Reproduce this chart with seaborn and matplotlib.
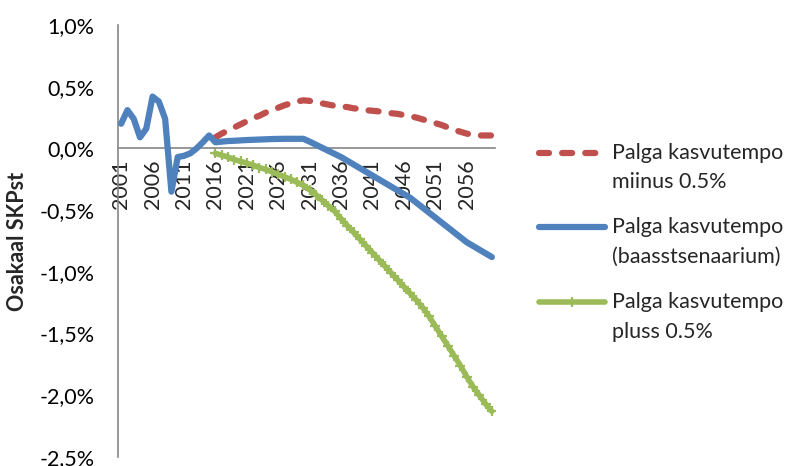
import matplotlib
matplotlib.use("Agg")
import matplotlib.pyplot as plt
from matplotlib.lines import Line2D
import numpy as np
import pandas as pd
import seaborn as sns

# ---------------- data ----------------
years = list(range(2001, 2061))
tick_years = list(range(2001, 2061, 5))

baseline = [0.20, 0.31, 0.24, 0.09, 0.16, 0.42, 0.38, 0.24, -0.35, -0.07,
            -0.06, -0.04, 0.00, 0.05, 0.105, 0.05, 0.055, 0.06, 0.062, 0.065,
            0.068, 0.07, 0.072, 0.074, 0.076, 0.077, 0.078, 0.078, 0.078, 0.078,
            0.055, 0.03, 0.005, -0.02, -0.045, -0.07, -0.10, -0.13, -0.16, -0.19,
            -0.22, -0.25, -0.28, -0.31, -0.34, -0.37, -0.40, -0.44, -0.48, -0.52,
            -0.56, -0.60, -0.64, -0.68, -0.72, -0.76, -0.79, -0.82, -0.85, -0.88]

scen_years = list(range(2016, 2061))
minus05 = [0.09, 0.12, 0.145, 0.17, 0.195, 0.22, 0.245, 0.265, 0.29, 0.31,
           0.33, 0.35, 0.365, 0.38, 0.39, 0.385, 0.375, 0.365, 0.355, 0.345,
           0.34, 0.335, 0.325, 0.32, 0.31, 0.305, 0.30, 0.295, 0.285, 0.28,
           0.27, 0.26, 0.25, 0.235, 0.22, 0.205, 0.19, 0.17, 0.15, 0.135,
           0.12, 0.11, 0.105, 0.105, 0.105]
plus05 = [-0.04, -0.055, -0.07, -0.09, -0.105, -0.12, -0.135, -0.155, -0.17, -0.19,
          -0.21, -0.23, -0.25, -0.275, -0.30, -0.335, -0.375, -0.42, -0.465, -0.51,
          -0.57, -0.625, -0.68, -0.735, -0.79, -0.845, -0.90, -0.955, -1.01, -1.065,
          -1.12, -1.175, -1.23, -1.29, -1.36, -1.44, -1.52, -1.60, -1.68, -1.76,
          -1.85, -1.93, -2.00, -2.07, -2.13]

y_ticks = [-2.5, -2.0, -1.5, -1.0, -0.5, 0.0, 0.5, 1.0]
y_tick_labels = ["-2,5%", "-2,0%", "-1,5%", "-1,0%", "-0,5%", "0,0%", "0,5%", "1,0%"]

labels = ["Palga kasvutempo\nmiinus 0.5%",
          "Palga kasvutempo\n(baasstsenaarium)",
          "Palga kasvutempo\npluss 0.5%"]
ylabel = "Osakaal SKPst"

# ---------------- style ----------------
sns.set_style("white")
plt.rcParams["font.family"] = ["Lato", "DejaVu Sans"]
FS = 15.5

RED = "#C0504D"
BLUE = "#4F81BD"
GREEN = "#9BBB59"
GRAY = "#868686"

W, H = 792, 466
fig = plt.figure(figsize=(W / 100, H / 100), dpi=100)
L, R, T, B = 118, 495, 25, 457
ax = fig.add_axes([L / W, 1 - B / H, (R - L) / W, (B - T) / H])

pos_all = [y - 2001 for y in years]
pos_scen = [y - 2001 for y in scen_years]

LW = 4.5
DASH = (1.6, 2.1)
sns.lineplot(x=pos_scen, y=minus05, ax=ax, color=RED, linewidth=LW,
             legend=False, zorder=3)
ax.lines[-1].set_dashes(DASH)
ax.lines[-1].set_dash_capstyle("round")
sns.lineplot(x=pos_all, y=baseline, ax=ax, color=BLUE, linewidth=LW,
             legend=False, zorder=4)
ax.lines[-1].set_solid_capstyle("round")
ax.lines[-1].set_solid_joinstyle("round")
sns.lineplot(x=pos_scen, y=plus05, ax=ax, color=GREEN, linewidth=4.0,
             marker="+", markersize=7, markeredgewidth=1.6,
             markeredgecolor=GREEN, legend=False, zorder=2)
ax.lines[-1].set_solid_capstyle("round")

ax.set_xlim(-0.5, len(years) - 0.5)
ax.set_ylim(-2.5, 1.0)

# y axis
ax.set_yticks(y_ticks)
ax.set_yticklabels(y_tick_labels, fontsize=FS)
ax.tick_params(axis="y", length=0, pad=17, labelcolor="black")

# x axis crossing at 0
ax.spines["bottom"].set_position(("data", 0))
ax.spines["bottom"].set_color(GRAY)
ax.spines["bottom"].set_linewidth(1.2)
ax.spines["left"].set_color(GRAY)
ax.spines["left"].set_linewidth(1.2)
ax.spines["top"].set_visible(False)
ax.spines["right"].set_visible(False)

major = [k - 0.5 for k in range(0, len(years) + 1, 5)]
ax.set_xticks(major)
ax.set_xticklabels([""] * len(major))
ax.tick_params(axis="x", which="major", direction="out", length=6,
               width=1.2, color=GRAY)
ax.set_xticks([y - 2001 for y in tick_years], minor=True)
ax.set_xticklabels([str(y) for y in tick_years], minor=True,
                   rotation=90, fontsize=FS)
ax.tick_params(axis="x", which="minor", length=0, pad=8)
for t in ax.get_xticklabels(minor=True):
    t.set_verticalalignment("top")
    t.set_horizontalalignment("center")

ax.set_ylabel(ylabel, fontsize=FS, fontweight="bold")
ax.yaxis.set_label_coords((28 - L) / (R - L), 0.5)
ax.set_xlabel("")
ax.grid(False)

# ---------------- legend (manual, to match layout) ----------------
def fx(px):
    return px / W

def fy(py):
    return 1 - py / H

entries = [
    (153, RED, dict(linestyle=(0, DASH), dash_capstyle="round")),
    (227, BLUE, dict(solid_capstyle="round")),
    (302, GREEN, dict(solid_capstyle="round")),
]
for (yy, col, kw), lab in zip(entries, labels):
    ln = Line2D([fx(539), fx(605)], [fy(yy), fy(yy)], transform=fig.transFigure,
                color=col, linewidth=LW if col != GREEN else 4.0, **kw)
    fig.add_artist(ln)
    if col == GREEN:
        mk = Line2D([fx(572)], [fy(yy)], transform=fig.transFigure, color=GREEN,
                    marker="+", markersize=7, markeredgewidth=1.6, linestyle="none")
        fig.add_artist(mk)
    l1, l2 = lab.split("\n")
    fig.text(fx(612), fy(yy), l1, fontsize=FS, va="center", ha="left")
    fig.text(fx(612), fy(yy + 29.5), l2, fontsize=FS, va="center", ha="left")

fig.savefig("out.png", dpi=100)
